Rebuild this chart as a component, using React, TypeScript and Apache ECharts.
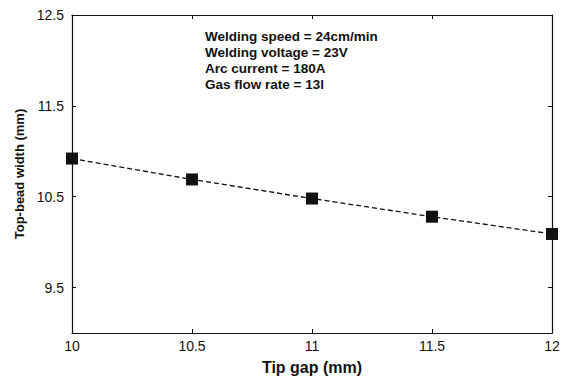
import React, { useEffect, useRef } from "react";
import * as echarts from "echarts";

const tipGap = [10, 10.5, 11, 11.5, 12];
const beadWidth = [10.92, 10.69, 10.48, 10.28, 10.09];
const yTicks = [9.5, 10.5, 11.5, 12.5];
const xTicks = [10, 10.5, 11, 11.5, 12];
const notes = [
  "Welding speed = 24cm/min",
  "Welding voltage = 23V",
  "Arc current = 180A",
  "Gas flow rate = 13l",
];

export default function App() {
  const ref = useRef<HTMLDivElement>(null);
  useEffect(() => {
    if (!ref.current) return;
    const chart = echarts.init(ref.current, null, { renderer: "svg" });
    const font = "Arial, 'Liberation Sans', sans-serif";
    const axisLine = { show: true, lineStyle: { color: "#111", width: 1.2 } };
    chart.setOption({
      animation: false,
      backgroundColor: "#fff",
      grid: { left: 72, right: 13, top: 15, bottom: 41, containLabel: false },
      xAxis: [
        {
          type: "value",
          min: 10,
          max: 12,
          interval: 0.5,
          position: "bottom",
          name: "Tip gap (mm)",
          nameLocation: "middle",
          nameGap: 26,
          nameTextStyle: { fontFamily: font, fontWeight: "bold", fontSize: 16, color: "#111" },
          axisLine,
          axisTick: { show: true, inside: true, length: 4, lineStyle: { color: "#111" }, customValues: xTicks },
          axisLabel: { fontFamily: font, fontSize: 14, color: "#111", margin: 6, customValues: xTicks },
          splitLine: { show: false },
        },
        {
          type: "value",
          min: 10,
          max: 12,
          interval: 0.5,
          position: "top",
          axisLine,
          axisTick: { show: true, inside: true, length: 4, lineStyle: { color: "#111" } },
          axisLabel: { show: false },
          splitLine: { show: false },
        },
      ],
      yAxis: [
        {
          type: "value",
          min: 9,
          max: 12.5,
          position: "left",
          name: "Top-bead width (mm)",
          nameLocation: "middle",
          nameGap: 46,
          nameTextStyle: { fontFamily: font, fontWeight: "bold", fontSize: 13, color: "#111" },
          axisLine,
          axisTick: { show: true, inside: true, length: 4, lineStyle: { color: "#111" }, customValues: yTicks },
          axisLabel: { fontFamily: font, fontSize: 14, color: "#111", margin: 8, customValues: yTicks },
          splitLine: { show: false },
        },
        {
          type: "value",
          min: 9,
          max: 12.5,
          position: "right",
          axisLine,
          axisTick: { show: true, inside: true, length: 4, lineStyle: { color: "#111" }, customValues: yTicks },
          axisLabel: { show: false, customValues: yTicks },
          splitLine: { show: false },
        },
      ],
      graphic: notes.map((t, i) => ({
        type: "text",
        left: 205,
        top: 29 + i * 16,
        style: { text: t, fontFamily: font, fontWeight: "bold", fontSize: 13.5, fill: "#111" },
      })),
      series: [
        {
          type: "line",
          data: tipGap.map((x, i) => [x, beadWidth[i]]),
          symbol: "rect",
          symbolSize: 12,
          itemStyle: { color: "#111" },
          lineStyle: { color: "#111", type: [5, 3], width: 1.3 },
        },
      ],
    });
    return () => chart.dispose();
  }, []);
  return (
    <div
      ref={ref}
      style={{ width: 565, height: 380, position: "fixed", left: 0, top: 0 }}
    />
  );
}
